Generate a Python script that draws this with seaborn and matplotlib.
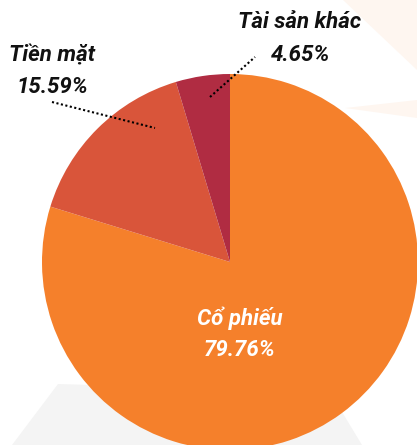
import matplotlib
matplotlib.use("Agg")
import matplotlib.pyplot as plt
from matplotlib.patches import Polygon
import seaborn as sns

# data
categories = ["Cổ phiếu", "Tiền mặt", "Tài sản khác"]
shares = [79.76, 15.59, 4.65]
colors = ["#F5802B", "#D9553A", "#B02C42"]

sns.set_style("white")
plt.rcParams['font.family'] = ['Roboto', 'DejaVu Sans']

W, H = 417, 445
fig = plt.figure(figsize=(W / 100, H / 100), dpi=100)
ax = fig.add_axes([0, 0, 1, 1])


def Y(v):
    # image rows -> data y
    return H - v


# faint background shapes
bg = [
    ([(58, 384), (330, 392), (362, 445), (12, 445)], "#F4F4F4"),
    ([(343, 0), (417, 0), (417, 70)], "#FEF6F0"),
    ([(345, 108), (417, 100), (417, 118)], "#FEF6F0"),
]
for pts, c in bg:
    ax.add_patch(Polygon([(x, Y(y)) for x, y in pts], closed=True,
                         facecolor=c, edgecolor="none", zorder=0))

cx, cy, r = 230, Y(262), 188
ax.pie(shares, colors=colors, startangle=90, counterclock=False,
       center=(cx, cy), radius=r, frame=True,
       wedgeprops=dict(linewidth=0))
ax.set_xlim(0, W)
ax.set_ylim(0, H)
ax.set_aspect("equal")
ax.axis("off")

label_kw = dict(fontsize=16, fontweight="bold", fontstyle="italic",
                ha="center", va="center")
ax.text(300, Y(22), categories[2], color="#111111", **label_kw)
ax.text(300, Y(55), f"{shares[2]:.2f}%", color="#111111", **label_kw)
ax.text(52, Y(55), categories[1], color="#111111", **label_kw)
ax.text(52, Y(87), f"{shares[1]:.2f}%", color="#111111", **label_kw)
ax.text(240, Y(318), categories[0], color="white", **label_kw)
ax.text(240, Y(350), f"{shares[0]:.2f}%", color="white", **label_kw)

# dotted leader lines
ax.plot([52, 155], [Y(102), Y(128)], color="black", linestyle=(0, (1, 1.2)), lw=1.5)
ax.plot([210, 255], [Y(97), Y(57)], color="black", linestyle=(0, (1, 1.2)), lw=1.5)

fig.savefig("out.png", dpi=100)
